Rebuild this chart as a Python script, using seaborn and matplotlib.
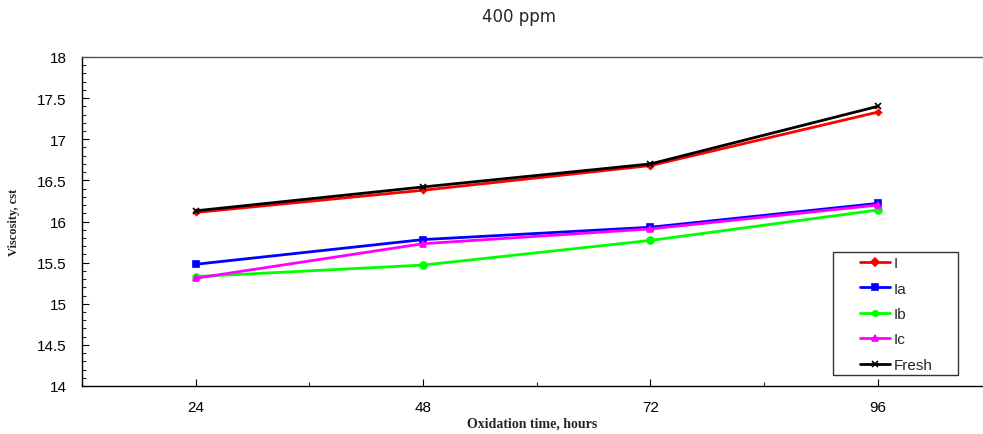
import matplotlib
matplotlib.use("Agg")
import matplotlib.pyplot as plt
import seaborn as sns
import pandas as pd
from matplotlib.ticker import MultipleLocator
from matplotlib.patches import Rectangle

hours = [24, 48, 72, 96]
series_names = ["I", "Ia", "Ib", "Ic", "Fresh"]
v_I = [16.11, 16.38, 16.68, 17.33]
v_Ia = [15.48, 15.78, 15.93, 16.22]
v_Ib = [15.33, 15.47, 15.77, 16.14]
v_Ic = [15.31, 15.73, 15.91, 16.20]
v_Fresh = [16.13, 16.42, 16.70, 17.40]

values = {"I": v_I, "Ia": v_Ia, "Ib": v_Ib, "Ic": v_Ic, "Fresh": v_Fresh}
rows = []
for name in series_names:
    for h, v in zip(hours, values[name]):
        rows.append({"hours": h, "visc": v, "series": name})
df = pd.DataFrame(rows)

sns.set_style("white")
plt.rcParams['font.family'] = ['Liberation Sans', 'DejaVu Sans']

W, H = 983, 435
fig = plt.figure(figsize=(W / 100, H / 100), dpi=100)
ax = fig.add_axes([82/W, 1 - 387/H, (982 - 82)/W, (387 - 58)/H])

palette = {"I": "#ff0000", "Ia": "#0000ff", "Ib": "#00ff00", "Ic": "#ff00ff", "Fresh": "#000000"}
markers = {"I": "D", "Ia": "s", "Ib": "o", "Ic": "^", "Fresh": "x"}
msizes = {"I": 3, "Ia": 5, "Ib": 5, "Ic": 5, "Fresh": 5}

for name in series_names:
    sub = df[df["series"] == name]
    sns.lineplot(data=sub, x="hours", y="visc", color=palette[name],
                 marker=markers[name], markersize=msizes[name],
                 markeredgecolor=palette[name], markeredgewidth=1.2,
                 linewidth=2, label=name, ax=ax)

ax.set_xlim(12, 107)
ax.set_ylim(14, 18)
ax.set_xticks(hours)
ax.xaxis.set_minor_locator(MultipleLocator(12))
ax.yaxis.set_minor_locator(MultipleLocator(0.1))
ax.set_yticks([14, 14.5, 15, 15.5, 16, 16.5, 17, 17.5, 18])
ax.set_yticklabels(["14", "14.5", "15", "15.5", "16", "16.5", "17", "17.5", "18"])
ax.tick_params(axis="both", which="major", direction="in", length=5, width=0.8,
               labelsize=11, colors="black", left=True, bottom=True)
ax.tick_params(axis="both", which="minor", direction="in", length=3, width=0.8,
               left=True, bottom=True)
ax.tick_params(axis="y", pad=11)
ax.tick_params(axis="x", pad=10)

for s in ["left", "bottom", "top"]:
    ax.spines[s].set_color("black")
    ax.spines[s].set_linewidth(1)
ax.spines["top"].set_color("#555555")
ax.spines["right"].set_visible(False)

ax.set_xlabel("Oxidation time, hours", family=["Liberation Serif", "DejaVu Serif"],
              fontweight="bold", fontsize=10, labelpad=2)
ax.set_ylabel("Viscosity, cst", family=["Liberation Serif", "DejaVu Serif"],
              fontweight="bold", fontsize=9, labelpad=12)
fig.text(519 / W, 1 - 17 / H, "400 ppm", ha="center", va="center",
         family=["DejaVu Sans"], fontsize=12)

# legend frame
ax.add_patch(Rectangle((833 / W, 1 - 376 / H), (958 - 833) / W, (376 - 253) / H,
                       transform=fig.transFigure, facecolor="white",
                       edgecolor="#333333", linewidth=1, zorder=4))
leg = ax.legend(loc="center left", bbox_to_anchor=(860 / W, 1 - 315 / H),
                bbox_transform=fig.transFigure, borderaxespad=0, borderpad=0,
                fontsize=11, frameon=False, labelspacing=0.75,
                handlelength=1.95, handletextpad=0.25)
leg.set_zorder(5)
for h in leg.legend_handles:
    h.set_markersize(4)

fig.savefig("out.png", dpi=100)
